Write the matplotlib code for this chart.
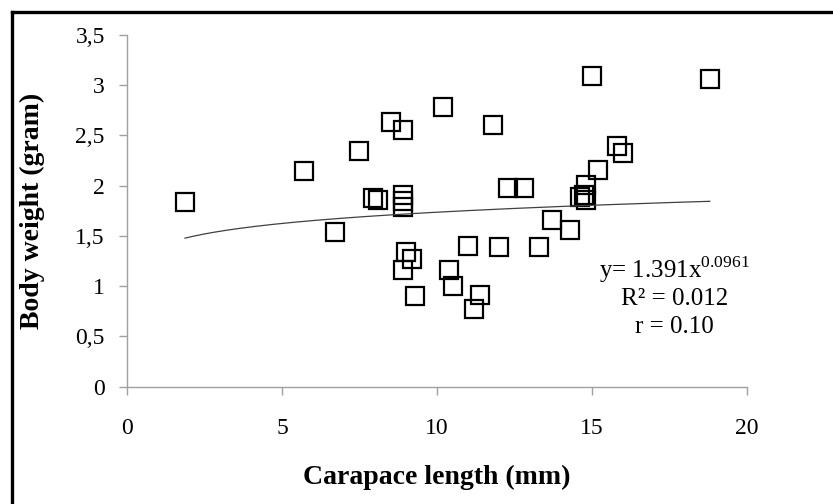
import numpy as np
import matplotlib
matplotlib.use('Agg')
import matplotlib.pyplot as plt
from matplotlib.lines import Line2D
from matplotlib.ticker import FuncFormatter

# carapace length (mm) and body weight (g)
length = [1.87, 5.71, 7.49, 8.5, 8.89, 10.2, 11.8, 14.99, 18.8, 6.71,
          7.92, 8.1, 8.89, 8.89, 8.89, 12.28, 12.8, 15.8, 15.99, 15.2,
          14.8, 14.6, 14.8, 14.75, 13.7, 14.3, 11.0, 12.0, 13.3, 8.89,
          9.18, 9.0, 9.29, 10.4, 10.5, 11.4, 11.2]
weight = [1.84, 2.15, 2.34, 2.63, 2.55, 2.78, 2.60, 3.09, 3.06, 1.54,
          1.88, 1.86, 1.91, 1.85, 1.79, 1.98, 1.98, 2.39, 2.32, 2.16,
          2.01, 1.89, 1.86, 1.91, 1.66, 1.56, 1.40, 1.39, 1.39, 1.16,
          1.27, 1.34, 0.90, 1.16, 1.00, 0.91, 0.77]

# power trend line y = a * x^b
fit_a = 1.391
fit_b = 0.0961
fit_text = ['y= 1.391x$^{0.0961}$', 'R\u00b2 = 0.012', 'r = 0.10']

plt.rcParams['font.family'] = 'Liberation Serif'
plt.rcParams['mathtext.fontset'] = 'custom'
plt.rcParams['mathtext.rm'] = 'Liberation Serif'

fig = plt.figure(figsize=(8.33, 5.04), dpi=100)
ax = fig.add_axes([0.1525, 0.2331, 0.7443, 0.6975])

ax.plot(length, weight, linestyle='none', marker='s', ms=12.5,
        mfc='none', mec='black', mew=1.6)

xs = np.linspace(min(length), max(length), 200)
ax.plot(xs, fit_a * xs ** fit_b, color='#404040', lw=0.9)

ax.set_xlim(0, 20)
ax.set_ylim(0, 3.5)
ax.set_xticks([0, 5, 10, 15, 20])
ax.set_yticks(np.arange(0, 3.51, 0.5))
ax.yaxis.set_major_formatter(FuncFormatter(lambda v, p: ('%g' % v).replace('.', ',')))

for side in ['top', 'right']:
    ax.spines[side].set_visible(False)
for side in ['left', 'bottom']:
    ax.spines[side].set_color('#a0a0a0')
    ax.spines[side].set_linewidth(1.0)
ax.tick_params(axis='both', direction='out', length=6, width=1.0,
               color='#a0a0a0', labelsize=17, labelcolor='black')
ax.tick_params(axis='x', pad=17)
ax.tick_params(axis='y', pad=10)

ax.set_xlabel('Carapace length (mm)', fontsize=20, fontweight='bold', labelpad=18)
ax.set_ylabel('Body weight (gram)', fontsize=20, fontweight='bold', labelpad=22)

for i, t in enumerate(fit_text):
    ax.text(17.65, 1.16 - 0.285 * i, t, fontsize=18, ha='center', va='center')

# frame lines (only top and left edges visible in the original crop)
fig.add_artist(Line2D([0.014, 0.014], [0.0, 0.9768], color='black', lw=2.4,
                      transform=fig.transFigure))
fig.add_artist(Line2D([0.014, 1.0], [0.9768, 0.9768], color='black', lw=2.4,
                      transform=fig.transFigure))

fig.savefig('out.png', dpi=100)
